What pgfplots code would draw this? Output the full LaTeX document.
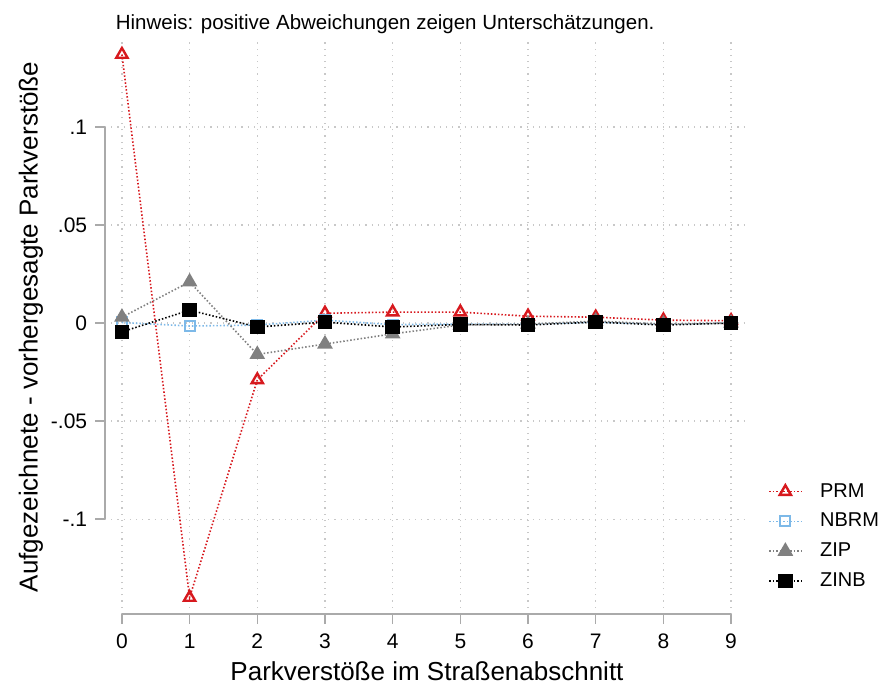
\documentclass[border=0pt]{standalone}
\usepackage{fontspec}
\setmainfont{Liberation Sans}
\usepackage{pgfplots}
\pgfplotsset{compat=1.18}

\definecolor{prmred}{RGB}{215,25,30}
\definecolor{nbblue}{RGB}{125,185,232}
\definecolor{zipgray}{RGB}{128,128,128}
\definecolor{axisgray}{RGB}{170,170,170}
\definecolor{gridgray}{RGB}{200,200,200}

\begin{document}
\fontsize{20}{24}\selectfont
\begin{tikzpicture}
\useasboundingbox (0,0) rectangle (883pt,686pt);
\begin{axis}[
  at={(105pt,72pt)}, anchor=south west,
  width=643pt, height=574pt, scale only axis,
  xmin=-0.25, xmax=9.25, ymin=-0.1484, ymax=0.1444,
  xtick={0,...,9},
  ytick={-0.1,-0.05,0,0.05,0.1},
  yticklabels={-.1,-.05,0,.05,.1},
  /pgf/number format/assume math mode=true,
  axis line style={draw=none},
  tick pos=left,
  tick align=outside,
  major tick length=10pt,
  tick style={axisgray, line width=1.5pt},
  grid=major,
  grid style={gridgray, line width=1.2pt, dash pattern=on 1.2pt off 5pt},
  ticklabel style={font=\fontsize{21}{25}\selectfont},
  xticklabel style={yshift=-3pt},
  yticklabel style={xshift=-1pt},
  clip=false,
  legend style={draw=none, fill=none,
    at={(axis description cs:1.027,0.235)}, anchor=north west,
    font=\fontsize{20}{24}\selectfont, row sep=9pt,
    /tikz/every odd column/.append style={column sep=16pt}},
  legend cell align=left,
  legend image code/.code={%
    \draw[mark repeat=2,mark phase=2] plot coordinates {(0pt,0pt) (16pt,0pt) (32pt,0pt)};},
  every axis plot/.append style={line width=1.6pt, dash pattern=on 1.5pt off 2pt},
]
% Poisson regression
\addplot[prmred, mark=triangle, mark size=6.5pt,
  mark options={solid, line width=2.4pt, fill=white}] coordinates {
  (0,0.137) (1,-0.140) (2,-0.029) (3,0.005) (4,0.0056)
  (5,0.0056) (6,0.0035) (7,0.003) (8,0.0015) (9,0.0012)};
\addlegendentry{PRM}
% negative binomial regression
\addplot[nbblue, mark=square, mark size=5pt,
  mark options={solid, line width=2pt, fill=white}] coordinates {
  (0,0.0003) (1,-0.0015) (2,-0.001) (3,0.0015) (4,-0.0008)
  (5,-0.0005) (6,-0.0005) (7,0.0005) (8,-0.0005) (9,0)};
\addlegendentry{NBRM}
% zero-inflated Poisson
\addplot[zipgray, mark=triangle*, mark size=7.5pt,
  mark options={solid}] coordinates {
  (0,0.003) (1,0.021) (2,-0.016) (3,-0.0107) (4,-0.0055)
  (5,-0.001) (6,-0.0005) (7,0.001) (8,-0.0005) (9,0)};
\addlegendentry{ZIP}
% zero-inflated negative binomial
\addplot[black, mark=square*, mark size=6.5pt,
  mark options={solid}] coordinates {
  (0,-0.0045) (1,0.0066) (2,-0.002) (3,0.0005) (4,-0.002)
  (5,-0.0007) (6,-0.001) (7,0.0005) (8,-0.001) (9,0)};
\addlegendentry{ZINB}
% axis lines spanning the labelled range only
\draw[axisgray, line width=1.5pt] (axis cs:-0.25,-0.1) -- (axis cs:-0.25,0.1);
\draw[axisgray, line width=1.5pt] (axis cs:0,-0.1484) -- (axis cs:9,-0.1484);
\end{axis}
\node[anchor=base west, font=\fontsize{20.5}{24}\selectfont] at (109pt,656pt)
  {Hinweis: positive Abweichungen zeigen Unterschätzungen.};
\node[anchor=base, font=\fontsize{26}{30}\selectfont] at (427pt,6pt)
  {Parkverstöße im Straßenabschnitt};
\node[rotate=90, anchor=center, font=\fontsize{26}{30}\selectfont] at (31pt,359pt)
  {Aufgezeichnete - vorhergesagte Parkverstöße};
\end{tikzpicture}
\end{document}
